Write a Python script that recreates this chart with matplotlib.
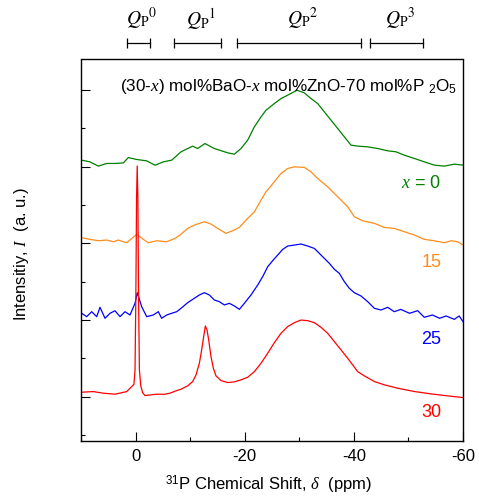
import matplotlib
matplotlib.use("Agg")
import matplotlib.pyplot as plt
import matplotlib.transforms as mtransforms
from matplotlib.ticker import MultipleLocator

plt.rcParams['font.family'] = ['Liberation Sans', 'DejaVu Sans']
plt.rcParams['mathtext.fontset'] = 'custom'
plt.rcParams['mathtext.rm'] = 'Liberation Sans'
plt.rcParams['mathtext.it'] = 'Liberation Serif:italic'
plt.rcParams['mathtext.sf'] = 'Liberation Sans'

# ---------------- data (ppm, offset intensity) ----------------
red_ppm = [10.0, 9.87, 7.73, 5.90, 3.77, 1.63, 0.71, 0.30, 0.10, -0.05, -0.18, -0.30, -0.42,
           -0.55, -0.70, -0.95, -1.30, -1.72, -3.86, -5.3, -6.30, -7.54, -8.33, -9.55, -10.46,
           -11.08, -11.69, -12.11, -12.48, -12.79, -13.09, -13.40, -13.82, -14.25, -14.74,
           -15.66, -16.88, -18.10, -19.32, -20.54, -21.77, -22.99, -24.21, -25.43, -26.65,
           -27.87, -29.10, -30.32, -31.54, -32.76, -33.98, -35.20, -36.43, -37.65, -38.87,
           -39.79, -40.70, -41.92, -43.76, -45.59, -48.03, -51.09, -54.14, -57.20, -60.0]
red_int = [0.06, 0.057, 0.065, 0.044, 0.031, 0.065, 0.13, 0.16, 0.35, 1.3, 2.6, 3.01, 2.6,
           1.3, 0.35, 0.14, 0.05, 0.013, 0.031, 0.03, 0.044, 0.078, 0.096, 0.140, 0.196,
           0.283, 0.435, 0.609, 0.783, 0.922, 0.870, 0.739, 0.522, 0.370, 0.270,
           0.209, 0.183, 0.192, 0.218, 0.252, 0.326, 0.435, 0.565, 0.704, 0.826,
           0.913, 0.965, 0.999, 0.991, 0.965, 0.904, 0.826, 0.717, 0.609, 0.500,
           0.413, 0.326, 0.270, 0.196, 0.153, 0.109, 0.066, 0.035, 0.009, -0.013]

blue_ppm = [10.0, 9.87, 8.96, 8.04, 7.12, 6.52, 5.60, 4.69, 3.77, 2.85, 1.94, 1.02, 0.10, -0.32,
            -1.12, -2.04, -3.25, -4.17, -4.78, -5.70, -6.62, -7.54, -8.33, -9.55, -10.77,
            -11.69, -12.60, -13.52, -14.43, -15.35, -16.27, -17.18, -18.10, -19.02, -19.93,
            -21.15, -22.38, -23.29, -24.21, -25.13, -26.04, -26.96, -27.87, -29.10, -30.32,
            -31.54, -32.76, -33.68, -34.59, -35.51, -36.43, -37.34, -38.26, -39.17, -40.09,
            -41.31, -42.54, -43.76, -44.98, -46.2, -47.4, -48.6, -50.2, -51.7, -52.9, -54.4,
            -55.7, -56.9, -58.4, -59.3, -60.0]
blue_int = [1.08, 1.087, 1.043, 1.108, 1.043, 1.165, 1.022, 1.087, 1.12, 1.043, 1.108, 1.065,
            1.218, 1.356, 1.173, 1.043, 1.065, 1.108, 1.022, 1.065, 1.087, 1.108, 1.152, 1.226,
            1.283, 1.326, 1.356, 1.326, 1.261, 1.239, 1.196, 1.217, 1.183, 1.139, 1.217,
            1.326, 1.456, 1.565, 1.695, 1.774, 1.847, 1.921, 1.965, 1.978, 1.991,
            1.965, 1.934, 1.869, 1.804, 1.739, 1.661, 1.608, 1.500, 1.413, 1.356,
            1.313, 1.239, 1.152, 1.130, 1.165, 1.108, 1.138, 1.087, 1.121, 1.035, 1.065,
            1.022, 1.052, 1.008, 1.052, 0.978]

orange_ppm = [10.0, 9.87, 8.35, 6.82, 5.30, 4.08, 3.16, 1.63, -0.20, -1.42, -2.34, -3.86, -5.70,
              -7.23, -8.14, -9.55, -10.77, -12.60, -13.82, -15.05, -16.57, -17.79, -19.02,
              -20.54, -21.77, -22.99, -23.90, -25.43, -26.65, -27.87, -29.10, -30.93, -32.15,
              -33.37, -35.20, -37.04, -38.87, -40.09, -41.62, -43.76, -45.59, -47.42, -49.25,
              -51.09, -52.92, -54.75, -56.59, -57.81, -59.03, -60.0]
orange_int = [2.078, 2.073, 2.052, 2.034, 2.043, 2.021, 2.043, 2.008, 2.117, 2.052, 2.008, 2.034,
              2.021, 2.065, 2.108, 2.195, 2.239, 2.282, 2.252, 2.195, 2.130, 2.165, 2.208,
              2.326, 2.412, 2.565, 2.673, 2.804, 2.912, 2.977, 2.999, 2.991, 2.934,
              2.847, 2.738, 2.608, 2.478, 2.347, 2.295, 2.261, 2.208, 2.195, 2.152,
              2.108, 2.052, 2.034, 2.008, 2.034, 2.021, 1.978]

green_ppm = [10.0, 9.87, 8.35, 6.82, 5.30, 3.77, 2.24, 1.33, -0.20, -2.04, -3.56, -5.09, -6.62,
             -7.84, -8.33, -10.46, -11.38, -12.72, -14.43, -16.88, -18.10, -19.32, -20.54,
             -21.77, -22.99, -23.90, -25.43, -26.65, -27.87, -29.58, -30.93, -32.15, -33.37,
             -34.59, -35.82, -37.04, -38.26, -39.48, -40.70, -42.54, -44.37, -46.20, -47.73,
             -49.25, -51.09, -52.92, -54.75, -56.59, -58.42, -60.0]
green_int = [3.09, 3.086, 3.064, 3.008, 3.043, 3.043, 3.05, 3.12, 3.095, 3.077, 3.02, 3.064,
             3.086, 3.164, 3.195, 3.269, 3.238, 3.303, 3.238, 3.182, 3.164, 3.238, 3.347,
             3.521, 3.651, 3.738, 3.825, 3.890, 3.934, 3.999, 3.964, 3.890, 3.825,
             3.716, 3.608, 3.499, 3.390, 3.282, 3.269, 3.260, 3.238, 3.208, 3.195,
             3.151, 3.108, 3.064, 3.021, 3.008, 3.034, 3.021]

series_labels = ['$x$ = 0', '15', '25', '30']
label_ppm = -56.0
label_y = [2.78, 1.755, 0.74, -0.21]

q_names = [r'$Q_{\mathrm{P}}{}^{0}$', r'$Q_{\mathrm{P}}{}^{1}$',
           r'$Q_{\mathrm{P}}{}^{2}$', r'$Q_{\mathrm{P}}{}^{3}$']
q_ranges = [(1.5, -2.6), (-7.1, -15.65), (-18.5, -41.4), (-43.0, -52.7)]

title = r'(30-$x$) mol%BaO-$x$ mol%ZnO-70 mol%P $_2$O$_5$'

# ---------------- figure ----------------
fig = plt.figure(figsize=(4.79, 5.01), dpi=100)
ax = fig.add_axes([81/479, 60/501, 382/479, 381.5/501])

colors = ['#008000', '#ff8c1a', '#0000ff', '#ff0000']
xs = [green_ppm, orange_ppm, blue_ppm, red_ppm]
ys = [green_int, orange_int, blue_int, red_int]
for x, y, c in zip(xs, ys, colors):
    ax.plot(x, y, color=c, lw=0.9)

ax.set_xlim(10, -60)
ax.set_ylim(-0.58, 4.4)
ax.xaxis.set_major_locator(MultipleLocator(20))
ax.xaxis.set_minor_locator(MultipleLocator(10))
ax.yaxis.set_major_locator(MultipleLocator(1))
ax.yaxis.set_minor_locator(MultipleLocator(0.5))
ax.tick_params(which='both', direction='in', width=0.8, top=False, right=False)
ax.tick_params(which='major', length=6.5)
ax.tick_params(which='minor', length=3)
ax.tick_params(axis='y', labelleft=False)
ax.tick_params(axis='x', labelsize=12, pad=6)
ax.set_xticks([0, -20, -40, -60])
ax.set_xticklabels(['0', '-20', '-40', '-60'])
for s in ax.spines.values():
    s.set_linewidth(1.0)

ax.set_xlabel(r'$^{31}$P Chemical Shift, $\delta$  (ppm)', fontsize=12)
ax.xaxis.set_label_coords(0.49, -0.086)
ax.set_ylabel(r'Intensitiy, $I$  (a. u.)', fontsize=12)
ax.yaxis.set_label_coords(-0.132, 0.49)

for lab, yy, c in zip(series_labels, label_y, colors):
    ax.text(label_ppm, yy, lab, color=c, fontsize=13, ha='right', va='center')

ax.text(0.984, 0.93, title, transform=ax.transAxes, fontsize=12.3, ha='right', va='center')

trans = mtransforms.blended_transform_factory(ax.transData, ax.transAxes)
for name, (a, b) in zip(q_names, q_ranges):
    ax.plot([a, b], [1.043, 1.043], transform=trans, color='black', lw=0.9,
            clip_on=False, marker='|', markersize=7, markeredgewidth=0.9)
    ax.text((a + b) / 2 - 0.6, 1.105, name, transform=trans, fontsize=14,
            ha='center', va='center', math_fontfamily='stix')

fig.savefig('out.png', dpi=100)
